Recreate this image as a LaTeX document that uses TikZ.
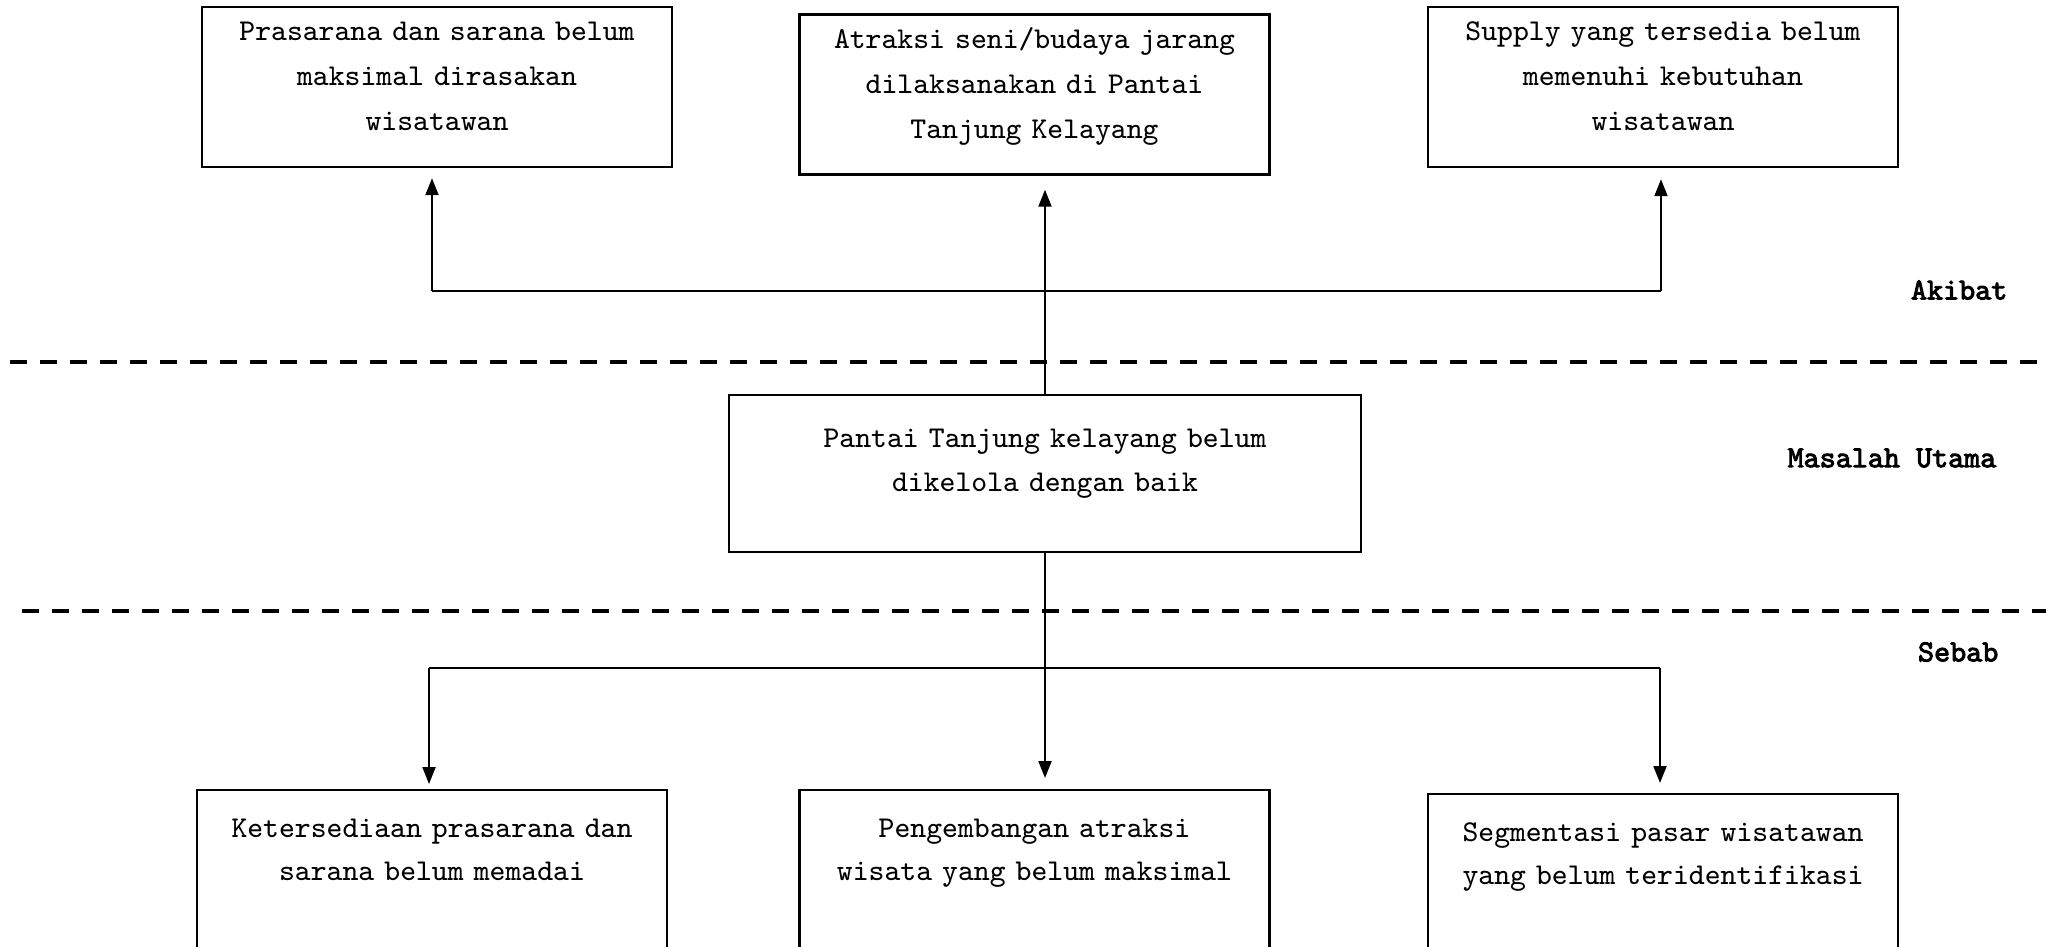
\documentclass[tikz,border=0pt]{standalone}
\usepackage{fontspec}
\newfontfamily\tagfont{lmmono10-regular.otf}[AutoFakeBold=3]
\usetikzlibrary{arrows.meta}

\begin{document}
\begin{tikzpicture}[
        box/.style={rectangle, draw, line width=0.7pt, text width=4.5cm, align=center, inner sep=0.1cm, font=\ttfamily\fontsize{8.6}{12.8}\selectfont},
        topbox/.style={box, minimum height=1.6cm, text depth=1.12cm},
        mainbox/.style={box, text width=6.12cm, minimum height=1.57cm, text depth=0.7cm, font=\ttfamily\fontsize{8.6}{12.4}\selectfont},
        lowbox/.style={box, anchor=north, inner ysep=0.2cm, text height=0.27cm, text depth=1.6cm, font=\ttfamily\fontsize{8.6}{12.4}\selectfont},
        arrow/.style={-{Triangle[length=0.17cm, width=0.13cm]}, line width=0.6pt},
        bar/.style={line width=0.5pt},
        sepline/.style={dash pattern=on 0.17cm off 0.13cm, line width=1.1pt},
        tag/.style={anchor=east, inner sep=0pt, font=\tagfont\bfseries\fontsize{8.7}{10}\selectfont}
    ]
        \path[use as bounding box, clip] (0,0) rectangle (20.46,-9.47);

        \node[topbox] (prasarana) at (4.37,-0.87) {Prasarana dan sarana belum\\maksimal dirasakan\\wisatawan};
        \node[topbox] (atraksi) at (10.345,-0.945) {Atraksi seni/budaya jarang\\dilaksanakan di Pantai\\Tanjung Kelayang};
        \node[topbox] (supply) at (16.63,-0.87) {Supply yang tersedia belum\\memenuhi kebutuhan\\wisatawan};

        \node[mainbox] (masalah) at (10.45,-4.735) {Pantai Tanjung kelayang belum\\dikelola dengan baik};

        \node[lowbox] (sarpras) at (4.32,-7.89) {Ketersediaan prasarana dan\\sarana belum memadai};
        \node[lowbox] (pengembangan) at (10.345,-7.89) {Pengembangan atraksi\\wisata yang belum maksimal};
        \node[lowbox] (segmentasi) at (16.63,-7.93) {Segmentasi pasar wisatawan\\yang belum teridentifikasi};

        \node[tag] (akibat) at (20.08,-2.90) {Akibat};
        \node[tag] (utama) at (19.97,-4.58) {Masalah Utama};
        \node[tag] (sebab) at (19.99,-6.52) {Sebab};

        \draw[sepline] (0.10,-3.62) -- (20.37,-3.62);
        \draw[sepline] (0.22,-6.11) -- (20.46,-6.11);

        \coordinate (akL) at (4.32,-2.91);
        \coordinate (akR) at (16.61,-2.91);
        \draw[bar] (akL) -- (akR);
        \draw[arrow, shorten >=0.1cm] (akL) -- (akL |- prasarana.south);
        \draw[arrow, shorten >=0.11cm] (akR) -- (akR |- supply.south);
        \draw[arrow, shorten >=0.14cm] (masalah.north) -- (masalah.north |- atraksi.south);

        \coordinate (sbL) at (4.29,-6.68);
        \coordinate (sbR) at (16.60,-6.68);
        \draw[bar] (sbL) -- (sbR);
        \draw[arrow, shorten >=0.11cm] (masalah.south) -- (masalah.south |- pengembangan.north);
        \draw[arrow, shorten >=0.05cm] (sbL) -- (sbL |- sarpras.north);
        \draw[arrow, shorten >=0.1cm] (sbR) -- (sbR |- segmentasi.north);
    \end{tikzpicture}
\end{document}
